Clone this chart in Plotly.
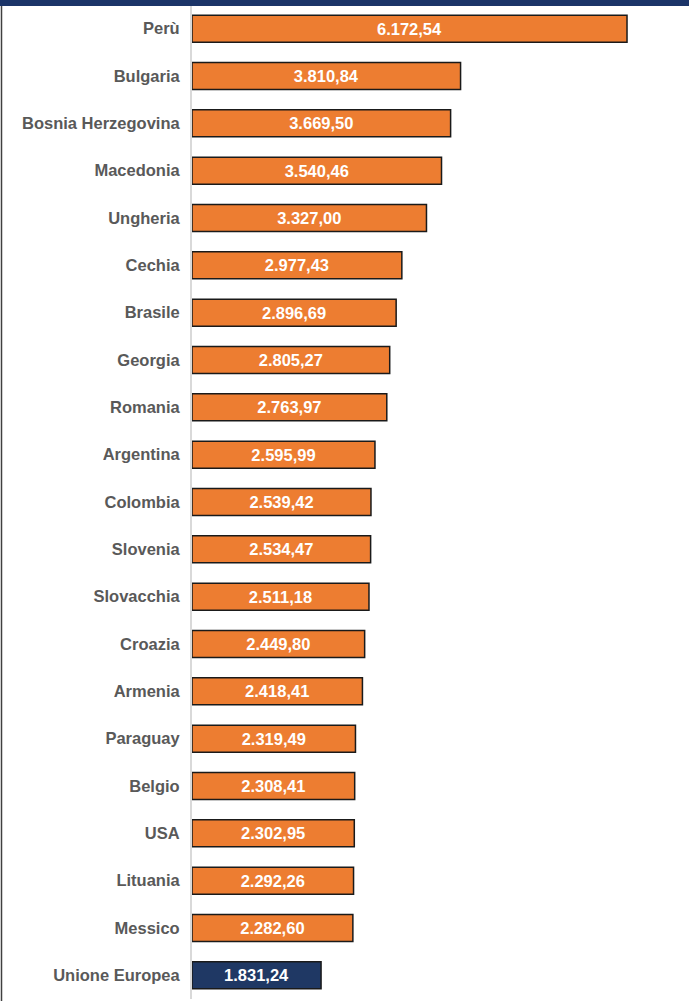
import plotly.graph_objects as go

countries = ["Perù", "Bulgaria", "Bosnia Herzegovina", "Macedonia", "Ungheria", "Cechia",
             "Brasile", "Georgia", "Romania", "Argentina", "Colombia", "Slovenia",
             "Slovacchia", "Croazia", "Armenia", "Paraguay", "Belgio", "USA", "Lituania",
             "Messico", "Unione Europea"]
values = [6172.54, 3810.84, 3669.50, 3540.46, 3327.00, 2977.43, 2896.69, 2805.27, 2763.97,
          2595.99, 2539.42, 2534.47, 2511.18, 2449.80, 2418.41, 2319.49, 2308.41, 2302.95,
          2292.26, 2282.60, 1831.24]

ORANGE = "#ED7D31"
NAVY = "#1F3864"


def fmt_it(v):
    s = f"{v:,.2f}"
    return s.replace(",", "X").replace(".", ",").replace("X", ".")


colors = [NAVY if c == "Unione Europea" else ORANGE for c in countries]
labels = [f"<b>{fmt_it(v)}</b>" for v in values]

fig = go.Figure(go.Bar(
    x=values, y=countries, orientation="h",
    marker=dict(color=colors, line=dict(color="#1a1a1a", width=1.5)),
    text=labels, textposition="inside", insidetextanchor="middle",
    textfont=dict(color="white", size=16.5, family="Liberation Sans"),
    cliponaxis=False,
))

W, H = 689, 1001
ml, mr, mt, mb = 192, 0, 5, 2
ph = H - mt - mb
pw = W - ml - mr

fig.update_layout(
    width=W, height=H,
    margin=dict(l=ml, r=mr, t=mt, b=mb),
    paper_bgcolor="white", plot_bgcolor="white",
    bargap=0.43, showlegend=False,
    font=dict(family="Liberation Sans", color="#595959"),
    xaxis=dict(range=[0, 7052], visible=False, fixedrange=True),
    yaxis=dict(
        autorange="reversed",
        tickmode="array", tickvals=countries,
        ticktext=[f"<b>{c}</b>" for c in countries],
        tickfont=dict(size=16.5, color="#595959", family="Liberation Sans"),
        ticks="", ticklabelstandoff=7,
        showline=True, linecolor="#D9D9D9", linewidth=2,
        showgrid=False, zeroline=False,
    ),
    shapes=[
        dict(type="rect", xref="paper", yref="paper",
             x0=-ml / pw, x1=1.0, y0=(H - mb - 6) / ph, y1=(H - mb) / ph,
             fillcolor="#1B3468", line=dict(width=0), layer="above"),
        dict(type="line", xref="paper", yref="paper",
             x0=(1.5 - ml) / pw, x1=(1.5 - ml) / pw,
             y0=-mb / ph, y1=(H - mb - 6) / ph,
             line=dict(color="#404040", width=1.5)),
    ],
)

fig.write_html("out.html")
